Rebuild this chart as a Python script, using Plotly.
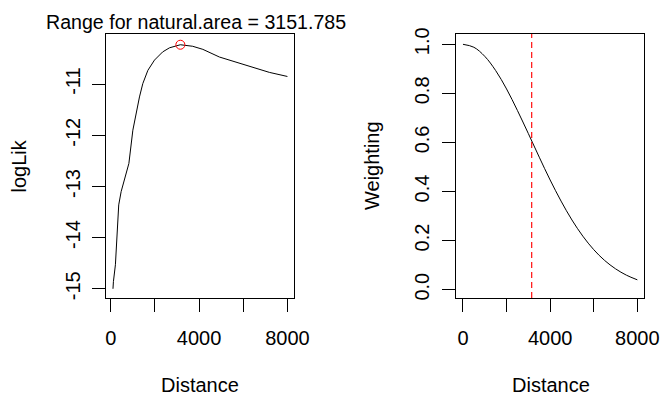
import plotly.graph_objects as go

# ---- data ----
dist_ll = [100, 120, 210, 270, 360, 470, 620, 770, 820, 1000, 1150, 1300, 1450, 1680,
           1980, 2350, 2660, 3151.785, 3710, 4170, 4920, 5680, 6430, 7180, 8000]
loglik = [-15.00, -14.86, -14.53, -13.95, -13.36, -13.10, -12.84, -12.62, -12.55, -11.90,
          -11.57, -11.25, -10.99, -10.73, -10.53, -10.37, -10.29, -10.23, -10.26, -10.32,
          -10.47, -10.57, -10.68, -10.77, -10.85]

best_range = 3151.785
best_loglik = -10.23

dist_w = [0, 500, 1000, 1500, 2000, 2500, 3000, 3500, 4000, 4500, 5000, 5500, 6000,
          6500, 7000, 7500, 8000]
weighting = [1.0, 0.988, 0.951, 0.893, 0.818, 0.730, 0.636, 0.540, 0.447, 0.361, 0.284,
             0.218, 0.163, 0.119, 0.085, 0.059, 0.040]

x_tickvals = [0, 2000, 4000, 6000, 8000]
x_ticktext = ["0", "", "4000", "", "8000"]
ll_tickvals = [-15, -14, -13, -12, -11]
ll_ticktext = ["-15", "-14", "-13", "-12", "-11"]
w_tickvals = [0, 0.2, 0.4, 0.6, 0.8, 1.0]
w_ticktext = ["0.0", "0.2", "0.4", "0.6", "0.8", "1.0"]

title_text = "Range for natural.area = %s" % best_range

FONT = "Liberation Sans, Arial, sans-serif"
W, H = 663, 397

fig = go.Figure()
fig.add_trace(go.Scatter(x=dist_ll, y=loglik, mode="lines",
                         line=dict(color="black", width=1), xaxis="x", yaxis="y",
                         showlegend=False, hoverinfo="skip"))
fig.add_trace(go.Scatter(x=[best_range], y=[best_loglik], mode="markers",
                         marker=dict(symbol="circle-open", size=9,
                                     line=dict(color="#ff0000", width=1), color="#ff0000"),
                         xaxis="x", yaxis="y", showlegend=False, hoverinfo="skip"))
fig.add_trace(go.Scatter(x=dist_w, y=weighting, mode="lines", line_shape="spline",
                         line=dict(color="black", width=1), xaxis="x2", yaxis="y2",
                         showlegend=False, hoverinfo="skip"))

fig.add_shape(type="line", xref="x2", yref="y2 domain", x0=best_range, x1=best_range,
              y0=0, y1=1, layer="above",
              line=dict(color="#ff2020", width=1.3, dash="6px,4px"))

ydom = [1 - 298 / H, 1 - 34 / H]

axis_common = dict(showline=True, mirror=True, linecolor="black", linewidth=1,
                   ticks="outside", ticklen=13, tickwidth=1, tickcolor="black",
                   showgrid=False, zeroline=False, automargin=False,
                   tickfont=dict(family=FONT, size=20, color="black"))

fig.update_layout(
    width=W, height=H, margin=dict(l=0, r=0, t=0, b=0, autoexpand=False),
    paper_bgcolor="white", plot_bgcolor="white",
    font=dict(family=FONT, size=20, color="black"),
    xaxis=dict(domain=[106 / W, 294.4 / W], range=[-216, 8316], anchor="y",
               tickvals=x_tickvals, ticktext=x_ticktext, ticklabelstandoff=9,
               **axis_common),
    yaxis=dict(domain=ydom, range=[-15.18, -10.02], anchor="x",
               tickvals=ll_tickvals, ticktext=ll_ticktext, tickangle=-90,
               ticklabelstandoff=4, **axis_common),
    xaxis2=dict(domain=[456 / W, 644.3 / W], range=[-320, 8320], anchor="y2",
                tickvals=x_tickvals, ticktext=x_ticktext, ticklabelstandoff=9,
                **axis_common),
    yaxis2=dict(domain=ydom, range=[-0.034, 1.042], anchor="x2",
                tickvals=w_tickvals, ticktext=w_ticktext, tickangle=-90,
                ticklabelstandoff=5, **axis_common),
)

def ann(text, x, y, angle=0, size=20):
    fig.add_annotation(text=text, xref="paper", yref="paper", x=x / W, y=1 - y / H,
                       xanchor="center", yanchor="middle", showarrow=False,
                       textangle=angle, font=dict(family=FONT, size=size, color="black"))

ann(title_text, 196, 22, size=19.6)
ann("Distance", 200, 385)
ann("Distance", 551, 385)
ann("logLik", 18.5, 166, -90)
ann("Weighting", 372, 166, -90)

fig.write_html("out.html")
